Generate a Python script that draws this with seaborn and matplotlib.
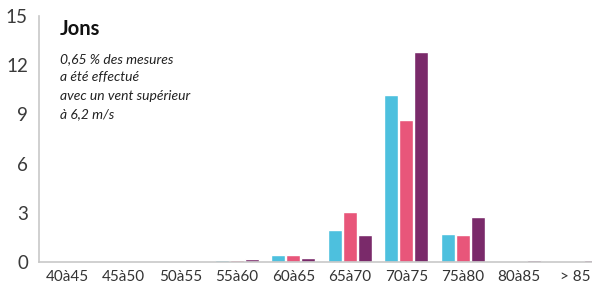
import matplotlib
matplotlib.use("Agg")
import matplotlib.pyplot as plt
import seaborn as sns
import pandas as pd
from matplotlib.ticker import FixedLocator

categories = ["40à45", "45à50", "50à55", "55à60", "60à65", "65à70", "70à75", "75à80", "80à85", "> 85"]
serie_1 = [0.02, 0.02, 0.02, 0.12, 0.40, 1.95, 10.2, 1.70, 0.02, 0.02]
serie_2 = [0.02, 0.02, 0.02, 0.12, 0.40, 3.05, 8.65, 1.65, 0.02, 0.02]
serie_3 = [0.02, 0.02, 0.02, 0.20, 0.22, 1.65, 12.8, 2.75, 0.12, 0.12]
series_names = ["Série 1", "Série 2", "Série 3"]
colors = ["#4DC0DE", "#E8567A", "#7A2A6A"]
yticks = [0, 3, 6, 9, 12, 15]

rows = []
for name, vals in zip(series_names, [serie_1, serie_2, serie_3]):
    for c, v in zip(categories, vals):
        rows.append({"cat": c, "serie": name, "val": v})
df = pd.DataFrame(rows)

sns.set_theme(style="white")
plt.rcParams["font.family"] = ["Lato", "DejaVu Sans"]

fig = plt.figure(figsize=(5.92, 2.84), dpi=100)
ax = fig.add_axes([39/592, 22/284, 565/592, 246/284])

sns.barplot(data=df, x="cat", y="val", hue="serie", order=categories,
            hue_order=series_names, palette=colors, width=0.8, gap=0.08,
            saturation=1, legend=False, ax=ax, errorbar=None)

ax.set_xlim(-0.5, 9.5)
ax.set_ylim(0, 15)
ax.set_yticks(yticks)
ax.set_xlabel("")
ax.set_ylabel("")
for s in ["top", "right"]:
    ax.spines[s].set_visible(False)
for s in ["left", "bottom"]:
    ax.spines[s].set_color("#c8c8c8")
    ax.spines[s].set_linewidth(1.2)

ax.tick_params(axis="y", direction="in", length=10, width=1.0, color="#c8c8c8",
               pad=8, labelsize=13.5, labelcolor="#3a3a3a")
ax.tick_params(axis="x", which="major", length=0, pad=6, labelsize=11, labelcolor="#333333")
ax.xaxis.set_minor_locator(FixedLocator([i + 0.5 for i in range(9)]))
ax.tick_params(axis="x", which="minor", direction="in", length=5, width=1.0, color="#c8c8c8")

fig.text(60/592, 1 - 35/284, "Jons", fontsize=14.5, fontweight="bold", color="#111111")
sub = ["0,65 % des mesures", "a été effectué", "avec un vent supérieur", "à 6,2 m/s"]
for i, line in enumerate(sub):
    fig.text(60/592, 1 - (63 + i*18.4)/284, line, fontsize=10, style="italic", color="#222222")

fig.savefig("out.png", dpi=100)
